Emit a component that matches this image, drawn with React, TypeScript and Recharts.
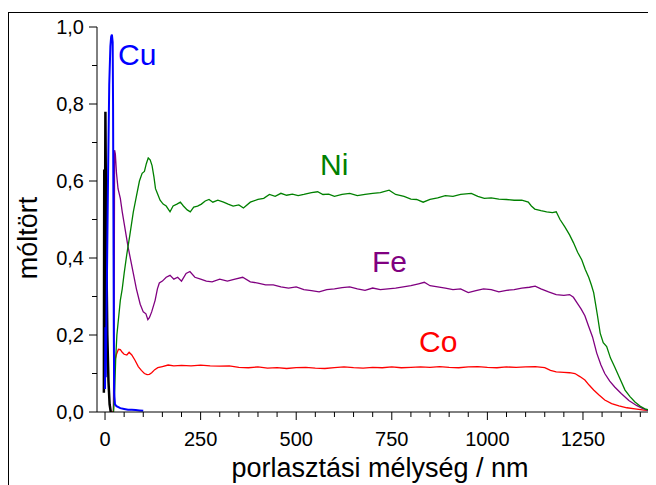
import { Line, LineChart, XAxis, YAxis } from "recharts";

// depth (nm), mole fraction
const cuPoints: [number, number][] = [
  [0, 0.06], [1, 0.22], [2, 0.09], [3, 0.18], [5, 0.35], [8, 0.62], [11, 0.85], [14, 0.95],
  [16, 0.975], [18, 0.98], [20, 0.96], [21, 0.8], [22, 0.5], [23, 0.2], [24, 0.05], [26, 0.02],
  [30, 0.015], [40, 0.01], [50, 0.008], [60, 0.006], [70, 0.006], [80, 0.005], [90, 0.004], [100, 0.003]
];

const blackPoints: [number, number][] = [
  [-3, 0.05], [-2, 0.63], [-1, 0.2], [1, 0.78], [3, 0.45], [6, 0.2], [9, 0.08], [12, 0.02], [15, 0.0], [18, 0.0]
];

const niPoints: [number, number][] = [
  [22, 0.0], [25, 0.05], [28, 0.14], [31, 0.2], [36, 0.25], [40, 0.29], [45, 0.32], [50, 0.36],
  [57, 0.41], [65, 0.46], [74, 0.52], [82, 0.56], [90, 0.6], [97, 0.62], [103, 0.625], [108, 0.645],
  [113, 0.66], [118, 0.655], [123, 0.64], [128, 0.61], [132, 0.58], [136, 0.57], [144, 0.55],
  [152, 0.54], [160, 0.535], [170, 0.52], [178, 0.535], [188, 0.54], [197, 0.545], [205, 0.535],
  [215, 0.525], [223, 0.52], [232, 0.532], [242, 0.535], [252, 0.54], [262, 0.548], [272, 0.552],
  [282, 0.545], [295, 0.55], [310, 0.545], [322, 0.54], [335, 0.535], [350, 0.538], [362, 0.53],
  [380, 0.545], [400, 0.552], [415, 0.555], [430, 0.565], [445, 0.56], [460, 0.568], [475, 0.563],
  [490, 0.566], [505, 0.562], [520, 0.565], [540, 0.57], [556, 0.572], [570, 0.565], [585, 0.566],
  [600, 0.56], [620, 0.565], [640, 0.568], [660, 0.562], [680, 0.565], [700, 0.568], [720, 0.57],
  [743, 0.576], [760, 0.565], [782, 0.56], [800, 0.553], [815, 0.552], [832, 0.545], [850, 0.552],
  [870, 0.556], [890, 0.562], [910, 0.56], [930, 0.565], [958, 0.568], [975, 0.56], [992, 0.555],
  [1010, 0.556], [1030, 0.553], [1050, 0.552], [1070, 0.55], [1090, 0.55], [1107, 0.545],
  [1115, 0.535], [1124, 0.527], [1140, 0.523], [1155, 0.52], [1170, 0.518], [1180, 0.52],
  [1190, 0.5], [1203, 0.48], [1215, 0.46], [1225, 0.44], [1236, 0.415], [1247, 0.395], [1256, 0.37],
  [1265, 0.35], [1272, 0.33], [1278, 0.31], [1283, 0.28], [1288, 0.25], [1295, 0.205], [1303, 0.18],
  [1312, 0.17], [1322, 0.14], [1333, 0.117], [1345, 0.09], [1360, 0.057], [1373, 0.04], [1386, 0.026],
  [1400, 0.015], [1412, 0.008], [1423, 0.005], [1441, 0.002]
];

const fePoints: [number, number][] = [
  [22, 0.0], [24, 0.3], [25, 0.68], [27, 0.67], [30, 0.62], [34, 0.58], [40, 0.555], [45, 0.52],
  [50, 0.49], [55, 0.46], [60, 0.43], [67, 0.395], [74, 0.36], [82, 0.32], [92, 0.28], [100, 0.26],
  [107, 0.255], [112, 0.24], [116, 0.245], [122, 0.26], [131, 0.29], [137, 0.32], [142, 0.335],
  [150, 0.34], [160, 0.35], [170, 0.355], [180, 0.345], [190, 0.35], [200, 0.34], [212, 0.36],
  [222, 0.365], [235, 0.35], [250, 0.345], [265, 0.34], [280, 0.338], [300, 0.345], [320, 0.34],
  [340, 0.345], [360, 0.35], [380, 0.338], [400, 0.335], [420, 0.33], [440, 0.33], [460, 0.325],
  [480, 0.322], [500, 0.325], [520, 0.318], [540, 0.315], [560, 0.312], [580, 0.318], [600, 0.32],
  [620, 0.323], [640, 0.325], [660, 0.32], [680, 0.316], [700, 0.322], [720, 0.318], [740, 0.32],
  [760, 0.322], [780, 0.325], [800, 0.328], [820, 0.333], [835, 0.337], [850, 0.328], [870, 0.325],
  [890, 0.322], [910, 0.318], [930, 0.32], [950, 0.31], [970, 0.315], [990, 0.32], [1010, 0.318],
  [1030, 0.312], [1050, 0.316], [1070, 0.318], [1090, 0.322], [1110, 0.324], [1125, 0.327],
  [1140, 0.32], [1160, 0.312], [1180, 0.305], [1200, 0.303], [1215, 0.305], [1225, 0.298],
  [1235, 0.283], [1245, 0.268], [1255, 0.25], [1265, 0.222], [1275, 0.195], [1286, 0.153],
  [1297, 0.122], [1307, 0.1], [1320, 0.08], [1333, 0.065], [1350, 0.048], [1370, 0.03],
  [1390, 0.017], [1404, 0.01], [1420, 0.004], [1441, 0.002]
];

const coPoints: [number, number][] = [
  [15, 0.0], [22, 0.0], [23, 0.08], [25, 0.13], [30, 0.15], [35, 0.163], [40, 0.162], [45, 0.155],
  [50, 0.15], [57, 0.148], [63, 0.155], [70, 0.148], [78, 0.135], [87, 0.118], [95, 0.108],
  [103, 0.1], [110, 0.097], [116, 0.098], [122, 0.102], [130, 0.11], [138, 0.115], [150, 0.118],
  [165, 0.122], [180, 0.12], [200, 0.121], [225, 0.12], [250, 0.122], [275, 0.12], [300, 0.119],
  [325, 0.12], [350, 0.116], [375, 0.115], [400, 0.117], [425, 0.114], [450, 0.115], [475, 0.113],
  [500, 0.115], [525, 0.116], [550, 0.114], [575, 0.113], [600, 0.115], [625, 0.117], [650, 0.115],
  [675, 0.114], [700, 0.116], [725, 0.115], [750, 0.117], [775, 0.115], [800, 0.116], [825, 0.117],
  [850, 0.116], [875, 0.118], [900, 0.116], [925, 0.115], [950, 0.117], [975, 0.118], [1000, 0.116],
  [1025, 0.115], [1050, 0.117], [1075, 0.116], [1100, 0.117], [1125, 0.118], [1150, 0.115],
  [1165, 0.108], [1180, 0.104], [1200, 0.103], [1215, 0.102], [1229, 0.1], [1242, 0.092],
  [1255, 0.083], [1266, 0.07], [1278, 0.057], [1292, 0.044], [1307, 0.031], [1325, 0.022],
  [1344, 0.016], [1365, 0.011], [1386, 0.008], [1410, 0.005], [1441, 0.003]
];

const xTicks = [0, 50, 100, 150, 200, 250, 300, 350, 400, 450, 500, 550, 600, 650, 700, 750,
  800, 850, 900, 950, 1000, 1050, 1100, 1150, 1200, 1250, 1300, 1350, 1400];
const yTicks = [0, 0.1, 0.2, 0.3, 0.4, 0.5, 0.6, 0.7, 0.8, 0.9, 1.0];

const toRows = (pts: [number, number][]) => pts.map(([d, v]) => ({ d, v }));

const FONT = "'Liberation Sans', Arial, sans-serif";

const XTick = (props: any) => {
  const { x, y, payload } = props;
  const major = payload.value % 250 === 0;
  return (
    <g>
      <line x1={x} x2={x} y1={y} y2={y + (major ? 8 : 5)} stroke="#000" />
      {major && (
        <text x={x} y={y + 34} textAnchor="middle" fontSize={20} fontFamily={FONT} fill="#000">
          {payload.value}
        </text>
      )}
    </g>
  );
};

const YTick = (props: any) => {
  const { x, y, payload } = props;
  const major = Math.round(payload.value * 10) % 2 === 0;
  return (
    <g>
      <line x1={x} x2={x - (major ? 8 : 5)} y1={y} y2={y} stroke="#000" />
      {major && (
        <text x={x - 13} y={y + 7} textAnchor="end" fontSize={20} fontFamily={FONT} fill="#000">
          {payload.value.toFixed(1).replace(".", ",")}
        </text>
      )}
    </g>
  );
};

export default function App() {
  return (
    <div style={{ position: "relative", width: 648, height: 477, overflow: "hidden" }}>
      <div
        style={{
          position: "absolute",
          left: 0,
          top: 4,
          width: 700,
          height: 600,
          borderLeft: "1px solid #000",
          borderTop: "1px solid #000"
        }}
      />
      <div style={{ position: "absolute", left: 0, top: 0 }}>
        <LineChart width={648} height={477} margin={{ top: 19, right: 0, bottom: 0, left: 0 }}>
          <XAxis
            type="number"
            dataKey="d"
            domain={[-21, 1441]}
            ticks={xTicks}
            interval={0}
            tick={XTick}
            tickLine={false}
            tickSize={0}
            tickMargin={0}
            height={73}
            stroke="#000"
            allowDataOverflow
          />
          <YAxis
            type="number"
            dataKey="v"
            domain={[0, 1]}
            ticks={yTicks}
            interval={0}
            tick={YTick}
            tickLine={false}
            tickSize={0}
            tickMargin={0}
            width={89}
            stroke="#000"
            allowDataOverflow
          />
          <Line data={toRows(coPoints)} dataKey="v" stroke="#ff0000" strokeWidth={1.3} dot={false} isAnimationActive={false} />
          <Line data={toRows(fePoints)} dataKey="v" stroke="#800080" strokeWidth={1.3} dot={false} isAnimationActive={false} />
          <Line data={toRows(niPoints)} dataKey="v" stroke="#008000" strokeWidth={1.3} dot={false} isAnimationActive={false} />
          <Line data={toRows(blackPoints)} dataKey="v" stroke="#000000" strokeWidth={2.5} dot={false} isAnimationActive={false} />
          <Line data={toRows(cuPoints)} dataKey="v" stroke="#0000ff" strokeWidth={2} dot={false} isAnimationActive={false} />
        </LineChart>
      </div>
      <svg
        width={648}
        height={477}
        style={{ position: "absolute", left: 0, top: 0, pointerEvents: "none" }}
        fontFamily={FONT}
      >
        <text x={110} y={57} fontSize={30} fill="#0000ff">Cu</text>
        <text x={312} y={167} fontSize={30} fill="#008000">Ni</text>
        <text x={364} y={264} fontSize={30} fill="#800080">Fe</text>
        <text x={411} y={344} fontSize={30} fill="#ff0000">Co</text>
        <text x={372} y={469} fontSize={27} textAnchor="middle" fill="#000">
          porlasztási mélység / nm
        </text>
        <text
          x={29}
          y={230}
          fontSize={27}
          textAnchor="middle"
          fill="#000"
          transform="rotate(-90 29 230)"
        >
          móltört
        </text>
      </svg>
    </div>
  );
}
